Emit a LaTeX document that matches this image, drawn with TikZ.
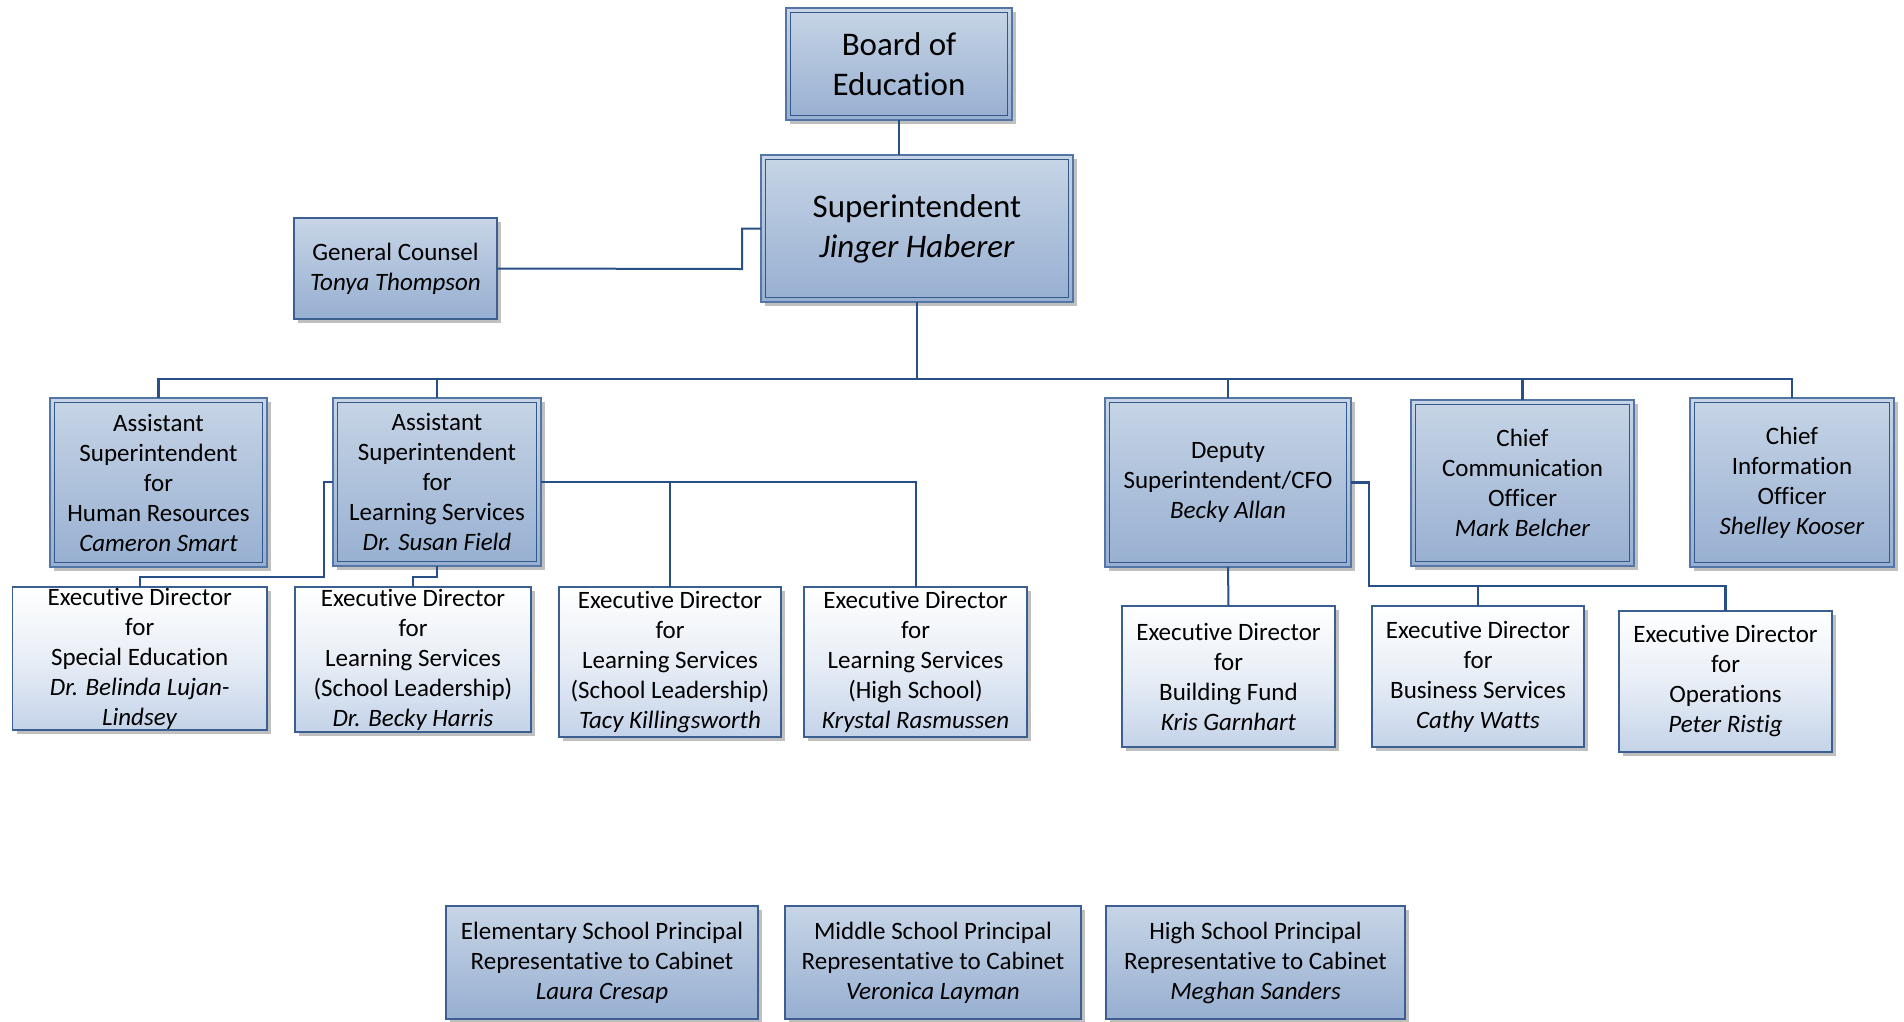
\documentclass[tikz,border=0pt]{standalone}
\usepackage{fontspec}
\setmainfont{Carlito}[Ligatures=NoCommon]
\usetikzlibrary{shadows}
\definecolor{linec}{RGB}{40,80,135}
\definecolor{outerc}{RGB}{84,118,166}
\definecolor{innerc}{RGB}{52,88,135}
\definecolor{singlec}{RGB}{60,95,145}
\definecolor{bluetop}{RGB}{199,213,230}
\definecolor{bluebot}{RGB}{151,175,209}
\definecolor{whitebot}{RGB}{196,211,233}
\definecolor{whitemid}{RGB}{232,238,246}
\begin{document}
\begin{tikzpicture}[x=1pt,y=-1pt,
  base/.style={rectangle, inner sep=0pt, outer sep=0pt, align=center,
    font=\fontsize{25}{30}\selectfont, text=black,
    drop shadow={shadow xshift=4pt, shadow yshift=-4pt, fill=black, opacity=0.25}},
  bluebox/.style={base, draw=singlec, line width=1.3pt, top color=bluetop, bottom color=bluebot},
  dblbox/.style={base, draw=outerc, line width=1.2pt, top color=bluetop, bottom color=bluebot,
    path picture={\draw[innerc, line width=1.3pt]
      ([xshift=4.5pt,yshift=-4.5pt]path picture bounding box.north west) rectangle
      ([xshift=-4.5pt,yshift=4.5pt]path picture bounding box.south east);}},
  whitebox/.style={base, draw=singlec, line width=1.2pt, top color=white, bottom color=whitebot, middle color=whitemid},
  big/.style={font=\fontsize{33}{40}\selectfont},
  sz/.style 2 args={minimum width=#1pt, minimum height=#2pt},
  conn/.style={draw=linec, line width=2pt},
  trunk/.style={draw=linec, line width=2.7pt}
]
\useasboundingbox (0,0) rectangle (1904,1021);
\fill[white] (0,0) rectangle (1904,1021);

% top
\node[dblbox, big, sz={226}{112}] (board) at (899,64) {Board of\\Education};
\node[dblbox, big, sz={312}{147}] (supt) at (917,228.5) {Superintendent\\\textit{Jinger Haberer}};
\node[bluebox, sz={203}{101}] (gc) at (395.5,268.5) {General Counsel\\\textit{Tonya Thompson}};

% level 2
\node[dblbox, sz={217}{169}] (ashr) at (158.5,482.5) {Assistant\\Superintendent\\for\\Human Resources\\\textit{Cameron Smart}};
\node[dblbox, sz={208}{168}] (asls) at (437,482) {Assistant\\Superintendent\\for\\Learning Services\\\textit{Dr. Susan Field}};
\node[dblbox, sz={246}{169}] (dep) at (1228,482.5) {Deputy\\Superintendent/CFO\\\textit{Becky Allan}};
\node[dblbox, sz={223}{166}] (cco) at (1522.5,483) {Chief\\Communication\\Officer\\\textit{Mark Belcher}};
\node[dblbox, sz={204}{169}] (cio) at (1792,482.5) {Chief\\Information\\Officer\\\textit{Shelley Kooser}};

% level 3
\node[whitebox, sz={254.5}{143}] (sped) at (139.75,658.5) {Executive Director\\for\\Special Education\\\textit{Dr. Belinda Lujan-}\\\textit{Lindsey}};
\node[whitebox, sz={236}{145}] (ls1) at (413,659.5) {Executive Director\\for\\Learning Services\\(School Leadership)\\\textit{Dr. Becky Harris}};
\node[whitebox, sz={222}{150}] (ls2) at (670,662) {Executive Director\\for\\Learning Services\\(School Leadership)\\\textit{Tacy Killingsworth}};
\node[whitebox, sz={223}{150}] (ls3) at (915.5,662) {Executive Director\\for\\Learning Services\\(High School)\\\textit{Krystal Rasmussen}};
\node[whitebox, sz={213}{141}] (bf) at (1228.5,676.5) {Executive Director\\for\\Building Fund\\\textit{Kris Garnhart}};
\node[whitebox, sz={212}{141}] (bs) at (1478,676.5) {Executive Director\\for\\Business Services\\\textit{Cathy Watts}};
\node[whitebox, sz={213}{141}] (ops) at (1725.5,681.5) {Executive Director\\for\\Operations\\\textit{Peter Ristig}};

% bottom row
\node[bluebox, sz={312}{113}] (elem) at (602,962.5) {Elementary School Principal\\Representative to Cabinet\\\textit{Laura Cresap}};
\node[bluebox, sz={296}{113}] (mid) at (933,962.5) {Middle School Principal\\Representative to Cabinet\\\textit{Veronica Layman}};
\node[bluebox, sz={299}{113}] (high) at (1255.5,962.5) {High School Principal\\Representative to Cabinet\\\textit{Meghan Sanders}};

% connectors
\coordinate (bus) at (917,379);
\coordinate (gcbend) at (742,269);
\coordinate (spedbend) at (324,577);
\coordinate (depbend) at (1369,586);

\draw[conn] (board.south) -- (board.south |- supt.north);
\draw[conn] (gc.east) -- (gcbend) |- (supt.west);
\draw[trunk] (supt.south) -- (bus);
\draw[conn, line width=2.4pt] (bus) -| (ashr.north);
\draw[conn, line width=2.4pt] (bus) -| (asls.north);
\draw[conn, line width=2.4pt] (bus) -| (dep.north);
\draw[conn, line width=2.4pt] (bus) -| (cco.north);
\draw[conn, line width=2.4pt] (bus) -| (cio.north);

\draw[conn] (asls.west) -| (spedbend) -| (sped.north);
\draw[conn] (asls.south) -- ++(0,11) -| (ls1.north);
\draw[conn] (asls.east) -| (ls2.north);
\draw[conn] (asls.east) -| (ls3.north);

\draw[conn] (dep.south) -- (bf.north);
\draw[conn, line width=2.4pt] (dep.east) -| (depbend) -| (bs.north);
\draw[conn, line width=2.4pt] (depbend) -| (ops.north);
\end{tikzpicture}
\end{document}
